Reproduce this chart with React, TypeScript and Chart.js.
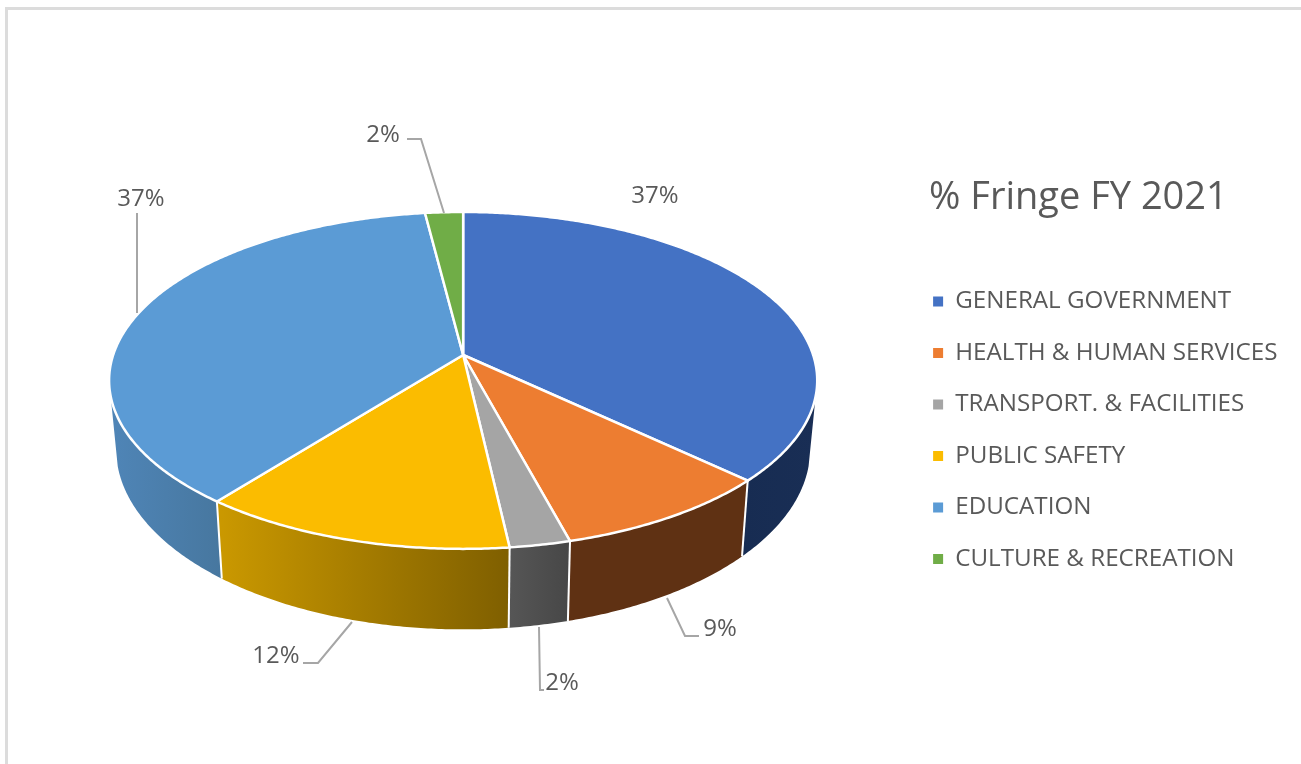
import React, { useEffect, useRef } from "react";
import { Chart, registerables } from "chart.js";

Chart.register(...registerables);

const chartTitle = "% Fringe FY 2021";
const categories = [
  "GENERAL GOVERNMENT",
  "HEALTH & HUMAN SERVICES",
  "TRANSPORT. & FACILITIES",
  "PUBLIC SAFETY",
  "EDUCATION",
  "CULTURE & RECREATION",
];
const shares = [37.0, 8.8, 2.4, 12.45, 37.35, 2.0];
const topColors = ["#4472C4", "#ED7D31", "#A5A5A5", "#FBBC00", "#5B9BD5", "#70AD47"];
const wallLeftColors = ["#172C52", "#5F3113", "#565656", "#CB9900", "#4F85B7", "#43682B"];
const wallRightColors = ["#192E55", "#5F3113", "#474747", "#7F5F00", "#47779F", "#43682B"];

// label centre, then the leader line running from the slice to the label
const labelCenters = [
  [655, 196],
  [720, 629],
  [562, 683],
  [276, 656],
  [141, 199],
  [383, 135],
];
const leaderLines = [
  [],
  [[667, 598], [685, 636], [699, 636]],
  [[539, 627], [540, 690], [544, 690]],
  [[352, 622], [318, 663], [303, 663]],
  [[137, 313], [137, 213]],
  [[444, 213], [421, 139], [407, 139]],
];

const FONT = '"Open Sans", "Noto Sans", sans-serif';
const TEXT = "#595959";
const TITLE_LEFT = 929;
const TILT = 0.151;
const TOP_Y = 0.4703;
const BOTTOM_X = 0.98;
const BOTTOM_Y = 0.503;
const DEPTH = 67;
const WALL_FROM = (104 * Math.PI) / 180;
const WALL_TO = (256 * Math.PI) / 180;
const STEP = Math.PI / 360;

type Pt = [number, number];

function project(arc: any, a: number, bottom: boolean): Pt {
  const u = Math.sin(a);
  const v = -Math.cos(a);
  const d = 1 - TILT * v;
  const U = u / d;
  const V = v / d;
  const R = arc.outerRadius;
  if (bottom) return [arc.x + R * BOTTOM_X * U, arc.y + DEPTH + R * BOTTOM_Y * V];
  return [arc.x + R * U, arc.y + R * TOP_Y * V];
}

function sample(from: number, to: number): number[] {
  const out: number[] = [];
  for (let a = from; a < to; a += STEP) out.push(a);
  out.push(to);
  return out;
}

const pie3d = {
  id: "pie3d",
  beforeDraw(chart: any) {
    // the legend title sits just left of the legend markers
    const legend = chart.legend;
    if (legend && !legend.__titleMoved) {
      legend.__titleMoved = true;
      const drawTitle = legend.drawTitle;
      legend.drawTitle = function () {
        const left = this.left;
        this.left = TITLE_LEFT;
        drawTitle.call(this);
        this.left = left;
      };
    }
  },
  beforeDatasetsDraw(chart: any) {
    const { ctx } = chart;
    const arcs = chart.getDatasetMeta(0).data;
    ctx.save();
    ctx.lineJoin = "round";
    ctx.strokeStyle = "#FFFFFF";

    arcs.forEach((arc: any, i: number) => {
      const s = Math.max(arc.startAngle + Math.PI / 2, WALL_FROM);
      const e = Math.min(arc.endAngle + Math.PI / 2, WALL_TO);
      if (e <= s) return;
      const angles = sample(s, e);
      const topRim = angles.map((a) => project(arc, a, false));
      const bottomRim = angles.map((a) => project(arc, a, true)).reverse();
      const outline = [...topRim, ...bottomRim];
      const xs = outline.map((p) => p[0]);
      const g = ctx.createLinearGradient(Math.min(...xs), 0, Math.max(...xs), 0);
      g.addColorStop(0, wallLeftColors[i]);
      g.addColorStop(1, wallRightColors[i]);
      ctx.beginPath();
      outline.forEach((p, k) => (k ? ctx.lineTo(p[0], p[1]) : ctx.moveTo(p[0], p[1])));
      ctx.closePath();
      ctx.fillStyle = g;
      ctx.fill();
    });

    // white seams between neighbouring walls
    ctx.lineWidth = 2;
    arcs.forEach((arc: any) => {
      const a = arc.endAngle + Math.PI / 2;
      if (a <= WALL_FROM || a >= WALL_TO) return;
      const t = project(arc, a, false);
      const b = project(arc, a, true);
      ctx.beginPath();
      ctx.moveTo(t[0], t[1]);
      ctx.lineTo(b[0], b[1]);
      ctx.stroke();
    });

    arcs.forEach((arc: any, i: number) => {
      const angles = sample(arc.startAngle + Math.PI / 2, arc.endAngle + Math.PI / 2);
      ctx.beginPath();
      ctx.moveTo(arc.x, arc.y);
      angles.forEach((a) => {
        const p = project(arc, a, false);
        ctx.lineTo(p[0], p[1]);
      });
      ctx.closePath();
      ctx.fillStyle = chart.data.datasets[0].backgroundColor[i];
      ctx.fill();
      ctx.lineWidth = 2.5;
      ctx.stroke();
    });

    ctx.strokeStyle = "#A6A6A6";
    ctx.lineWidth = 2;
    ctx.lineJoin = "miter";
    leaderLines.forEach((line) => {
      if (!line.length) return;
      ctx.beginPath();
      line.forEach((p, k) => (k ? ctx.lineTo(p[0], p[1]) : ctx.moveTo(p[0], p[1])));
      ctx.stroke();
    });

    ctx.fillStyle = TEXT;
    ctx.font = `24px ${FONT}`;
    ctx.textAlign = "center";
    ctx.textBaseline = "middle";
    shares.forEach((v, i) => {
      ctx.fillText(`${Math.round(v)}%`, labelCenters[i][0], labelCenters[i][1]);
    });
    ctx.restore();
    return false;
  },
};

export default function App() {
  const ref = useRef<HTMLCanvasElement>(null);
  useEffect(() => {
    const chart = new Chart(ref.current as HTMLCanvasElement, {
      type: "pie",
      data: {
        labels: categories,
        datasets: [{ data: shares, backgroundColor: topColors, borderWidth: 0, radius: 350 }],
      },
      plugins: [pie3d],
      options: {
        responsive: false,
        animation: false,
        layout: { padding: { left: 20.5, right: 13.5, top: 0, bottom: 54 } },
        plugins: {
          tooltip: { enabled: false },
          legend: {
            position: "right",
            align: "start",
            title: {
              display: true,
              text: chartTitle,
              color: TEXT,
              position: "start",
              font: { family: FONT, size: 38 },
              padding: { top: 179.5, bottom: 37 },
            },
            labels: {
              boxWidth: 10,
              boxHeight: 10,
              padding: 27.3,
              color: TEXT,
              font: { family: FONT, size: 24.2 },
            },
          },
        },
      },
    } as any);
    return () => chart.destroy();
  }, []);
  return (
    <div style={{ position: "fixed", left: 0, top: 0, width: 1301, height: 764, overflow: "hidden", background: "#fff" }}>
      <div
        style={{
          position: "absolute",
          left: 5,
          top: 7,
          width: 1400,
          height: 900,
          borderLeft: "3px solid #DCDCDC",
          borderTop: "3px solid #DCDCDC",
        }}
      />
      <canvas ref={ref} width={1301} height={764} style={{ position: "absolute", left: 0, top: 0, display: "block" }} />
    </div>
  );
}
